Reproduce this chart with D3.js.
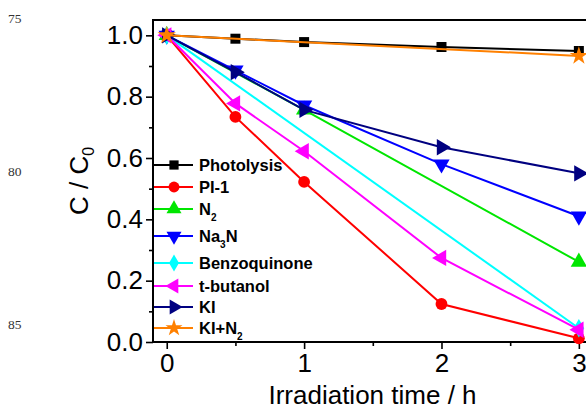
<!DOCTYPE html>
<html>
<head>
<meta charset="utf-8">
<script src="https://cdn.jsdelivr.net/npm/d3@7"></script>
<style>
  html, body { margin: 0; padding: 0; background: #fff; }
  svg { display: block; }
</style>
</head>
<body>
<svg id="chart" width="586" height="409"></svg>
<script>
// ---- data ----
const seriesNames = ["Photolysis", "PI-1", "N2", "Na3N", "Benzoquinone", "t-butanol", "KI", "KI+N2"];
const photolysisT = [0, 0.5, 1, 2, 3];
const photolysisV = [1.0, 0.989, 0.978, 0.962, 0.949];
const pi1T = [0, 0.5, 1, 2, 3];
const pi1V = [1.0, 0.734, 0.522, 0.124, 0.012];
const n2T = [0, 1, 3];
const n2V = [1.0, 0.757, 0.261];
const na3nT = [0, 0.5, 1, 2, 3];
const na3nV = [1.0, 0.886, 0.772, 0.58, 0.41];
const benzoT = [0, 3];
const benzoV = [1.0, 0.045];
const tbutT = [0, 0.5, 1, 2, 3];
const tbutV = [1.0, 0.778, 0.622, 0.274, 0.04];
const kiT = [0, 0.5, 1, 2, 3];
const kiV = [1.0, 0.88, 0.757, 0.635, 0.55];
const kin2T = [0, 3];
const kin2V = [1.0, 0.933];
const xTicks = [0, 1, 2, 3];
const yTicks = [0.0, 0.2, 0.4, 0.6, 0.8, 1.0];
const lineNumbers = ["75", "80", "85"];

// ---- styles ----
const styles = [
  { color: "#000000", symbol: d3.symbolSquare, rot: 0, size: 100 },
  { color: "#ff0000", symbol: d3.symbolCircle, rot: 0, size: 110 },
  { color: "#00e600", symbol: d3.symbolTriangle, rot: 0, size: 115 },
  { color: "#0000ff", symbol: d3.symbolTriangle, rot: 180, size: 115 },
  { color: "#00ffff", symbol: d3.symbolDiamond, rot: 0, size: 100 },
  { color: "#ff00ff", symbol: d3.symbolTriangle, rot: -90, size: 115 },
  { color: "#000080", symbol: d3.symbolTriangle, rot: 90, size: 115 },
  { color: "#ff8000", symbol: d3.symbolStar, rot: 0, size: 105 }
];
const seriesT = [photolysisT, pi1T, n2T, na3nT, benzoT, tbutT, kiT, kin2T];
const seriesV = [photolysisV, pi1V, n2V, na3nV, benzoV, tbutV, kiV, kin2V];
const series = seriesNames.map((n, i) => ({
  name: n,
  pts: seriesT[i].map((t, j) => ({ t: t, v: seriesV[i][j] })),
  style: styles[i]
}));

const svg = d3.select("#chart");
const pLeft = 153, pTop = 20, pBottom = 342, pRight = 592.6;
const x = d3.scaleLinear().domain([-0.1, 3.1]).range([pLeft, pRight]);
const y = d3.scaleLinear().domain([0, 1.05]).range([pBottom, pTop]);

// line numbers (from the paper margin)
const lnY = [23, 176, 329];
svg.selectAll("text.ln").data(lineNumbers).enter().append("text")
  .attr("class", "ln")
  .attr("x", 8).attr("y", (d, i) => lnY[i])
  .attr("font-family", "Liberation Serif, Times New Roman, serif")
  .attr("font-size", 13.5).attr("fill", "#333")
  .text(d => d);

// frame
svg.append("rect")
  .attr("x", pLeft).attr("y", pTop)
  .attr("width", pRight - pLeft).attr("height", pBottom - pTop)
  .attr("fill", "none").attr("stroke", "#000").attr("stroke-width", 2);

// axes
const fontFam = "Liberation Sans, Arial, Helvetica, sans-serif";
const yAxis = d3.axisLeft(y).tickValues(yTicks).tickFormat(d3.format(".1f")).tickSize(7).tickPadding(3);
const yMinor = d3.axisLeft(y).tickValues(d3.range(0.1, 1.05, 0.2)).tickFormat("").tickSize(4);
const xAxis = d3.axisBottom(x).tickValues(xTicks).tickFormat(d3.format("d")).tickSize(7).tickPadding(5);
const xMinor = d3.axisBottom(x).tickValues([0.5, 1.5, 2.5]).tickFormat("").tickSize(4);

function styleAxis(g) {
  g.select(".domain").remove();
  g.selectAll("line").attr("stroke", "#000").attr("stroke-width", 1.6);
  g.selectAll("text").attr("font-family", fontFam).attr("font-size", 26).attr("fill", "#000");
}
svg.append("g").attr("transform", `translate(${pLeft},0)`).call(yAxis).call(styleAxis);
svg.append("g").attr("transform", `translate(${pLeft},0)`).call(yMinor).call(styleAxis);
svg.append("g").attr("transform", `translate(0,${pBottom})`).call(xAxis).call(styleAxis);
svg.append("g").attr("transform", `translate(0,${pBottom})`).call(xMinor).call(styleAxis);

// axis titles
svg.append("text")
  .attr("x", 372.5).attr("y", 404)
  .attr("text-anchor", "middle")
  .attr("font-family", fontFam).attr("font-size", 26).attr("fill", "#000")
  .text("Irradiation time / h");

const yl = svg.append("text")
  .attr("transform", "translate(88,181) rotate(-90)")
  .attr("text-anchor", "middle")
  .attr("font-family", fontFam).attr("font-size", 26).attr("fill", "#000");
yl.append("tspan").text("C / C");
yl.append("tspan").attr("font-size", 16).attr("dy", 6).text("0");

// series
const plot = svg.append("g");
const line = d3.line().x(d => x(d.t)).y(d => y(d.v));

series.forEach(s => {
  const g = plot.append("g");
  g.append("path").datum(s.pts)
    .attr("d", line)
    .attr("fill", "none").attr("stroke", s.style.color).attr("stroke-width", 2);
  g.selectAll("path.m").data(s.pts).enter().append("path")
    .attr("class", "m")
    .attr("d", d3.symbol().type(s.style.symbol).size(s.style.size))
    .attr("transform", d => `translate(${x(d.t)},${y(d.v)}) rotate(${s.style.rot})`)
    .attr("fill", s.style.color);
});

// legend
const legRows = [165, 187, 209, 236, 263, 286, 307, 328];
const leg = svg.append("g");
series.forEach((s, i) => {
  const yy = legRows[i];
  leg.append("line").attr("x1", 154).attr("x2", 193).attr("y1", yy).attr("y2", yy)
    .attr("stroke", s.style.color).attr("stroke-width", 2);
  leg.append("path")
    .attr("d", d3.symbol().type(s.style.symbol).size(s.style.size * 0.85))
    .attr("transform", `translate(174,${yy}) rotate(${s.style.rot})`)
    .attr("fill", s.style.color);
  const t = leg.append("text").attr("x", 199).attr("y", yy + 6)
    .attr("font-family", fontFam).attr("font-weight", "bold").attr("font-size", 16.5).attr("fill", "#000");
  const m = s.name.match(/^([A-Za-z+\-]*?)(\d)(.*)$/);
  if (m && (s.name === "N2" || s.name === "Na3N" || s.name === "KI+N2")) {
    t.append("tspan").text(m[1]);
    t.append("tspan").attr("font-size", 10).attr("dy", 6).text(m[2]);
    if (m[3]) t.append("tspan").attr("dy", -6).text(m[3]);
  } else {
    t.text(s.name);
  }
});
</script>
</body>
</html>
